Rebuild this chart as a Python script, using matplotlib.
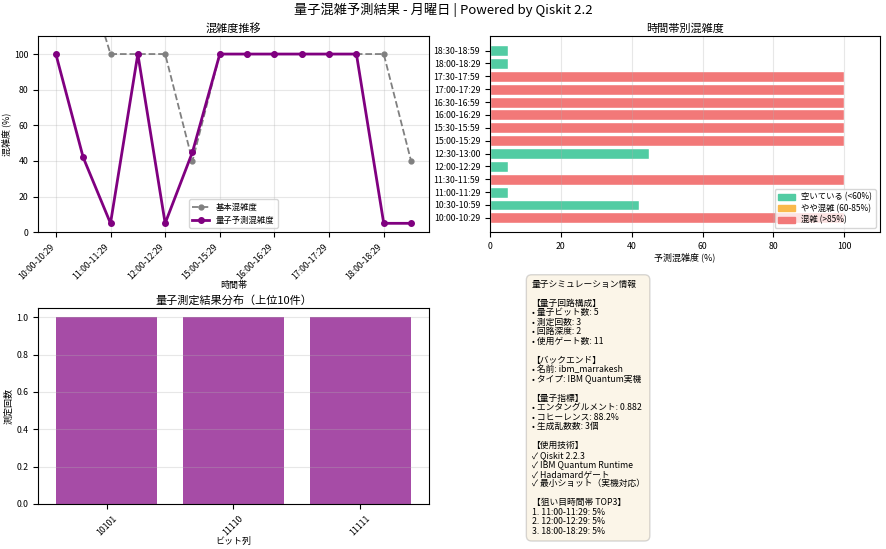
import matplotlib
matplotlib.use("Agg")
import matplotlib.pyplot as plt
from matplotlib.patches import Patch

plt.rcParams["font.family"] = ["Noto Sans CJK JP", "DejaVu Sans"]
plt.rcParams["axes.unicode_minus"] = False

# データ
slots = ["10:00-10:29", "10:30-10:59", "11:00-11:29", "11:30-11:59", "12:00-12:29",
         "12:30-13:00", "15:00-15:29", "15:30-15:59", "16:00-16:29", "16:30-16:59",
         "17:00-17:29", "17:30-17:59", "18:00-18:29", "18:30-18:59"]
base_level = [150, 150, 100, 100, 100, 40, 100, 100, 100, 100, 100, 100, 100, 40]
quantum_level = [100, 42, 5, 100, 5, 45, 100, 100, 100, 100, 100, 100, 5, 5]
bitstrings = ["10101", "11110", "11111"]
counts = [1, 1, 1]

C_FREE = "#52CCA3"
C_MID = "#F9B94C"
C_BUSY = "#F27878"

def level_color(v):
    if v < 60:
        return C_FREE
    if v < 85:
        return C_MID
    return C_BUSY

fig = plt.figure(figsize=(8.86, 5.49), dpi=100)
fig.suptitle("量子混雑予測結果 - 月曜日 | Powered by Qiskit 2.2", fontsize=9.5, y=0.995)

# --- 混雑度推移 ---
ax1 = fig.add_axes([0.043, 0.577, 0.441, 0.357])
x = list(range(len(slots)))
ax1.plot(x, base_level, "o--", color="gray", lw=1.3, ms=3.5, label="基本混雑度")
ax1.plot(x, quantum_level, "o-", color="purple", lw=2, ms=4, label="量子予測混雑度")
ax1.set_ylim(0, 110)
ax1.set_xticks(x[::2])
ax1.set_xticklabels(slots[::2], rotation=45, ha="right", fontsize=6.3)
ax1.tick_params(axis="y", labelsize=6.3)
ax1.set_ylabel("混雑度 (%)", fontsize=6.5, labelpad=2)
ax1.set_xlabel("時間帯", fontsize=6.5, labelpad=0)
ax1.set_title("混雑度推移", fontsize=8, pad=3)
ax1.grid(alpha=0.3)
ax1.legend(fontsize=6, loc="lower center")

# --- 時間帯別混雑度 ---
ax2 = fig.add_axes([0.553, 0.577, 0.440, 0.357])
ax2.barh(slots, quantum_level, color=[level_color(v) for v in quantum_level],
         edgecolor="white", height=0.85)
ax2.set_xlim(0, 110)
ax2.set_xlabel("予測混雑度 (%)", fontsize=6.5, labelpad=1)
ax2.set_title("時間帯別混雑度", fontsize=8, pad=3)
ax2.tick_params(labelsize=6.3)
ax2.grid(axis="x", alpha=0.3)
handles = [Patch(color=C_FREE, label="空いている (<60%)"),
           Patch(color=C_MID, label="やや混雑 (60-85%)"),
           Patch(color=C_BUSY, label="混雑 (>85%)")]
ax2.legend(handles=handles, fontsize=6, loc="lower right", labelspacing=0.3)

# --- 量子測定結果分布 ---
ax3 = fig.add_axes([0.043, 0.082, 0.441, 0.357])
ax3.bar(bitstrings, counts, color="purple", alpha=0.7)
ax3.set_title("量子測定結果分布（上位10件）", fontsize=8, pad=3)
ax3.set_ylabel("測定回数", fontsize=6.5, labelpad=2)
ax3.set_xlabel("ビット列", fontsize=6.5, labelpad=0)
ax3.tick_params(labelsize=6.3)
plt.setp(ax3.get_xticklabels(), rotation=45)
ax3.grid(axis="y", alpha=0.3)

# --- 情報テキスト ---
info = ("量子シミュレーション情報\n\n"
        "【量子回路構成】\n"
        "• 量子ビット数: 5\n"
        "• 測定回数: 3\n"
        "• 回路深度: 2\n"
        "• 使用ゲート数: 11\n\n"
        "【バックエンド】\n"
        "• 名前: ibm_marrakesh\n"
        "• タイプ: IBM Quantum実機\n\n"
        "【量子指標】\n"
        "• エンタングルメント: 0.882\n"
        "• コヒーレンス: 88.2%\n"
        "• 生成乱数数: 3個\n\n"
        "【使用技術】\n"
        "✓ Qiskit 2.2.3\n"
        "✓ IBM Quantum Runtime\n"
        "✓ Hadamardゲート\n"
        "✓ 最小ショット（実機対応）\n\n"
        "【狙い目時間帯 TOP3】\n"
        "1. 11:00-11:29: 5%\n"
        "2. 12:00-12:29: 5%\n"
        "3. 18:00-18:29: 5%")
fig.text(0.600, 0.490, info, fontsize=6.3, va="top", ha="left", linespacing=1.07,
         family=["Noto Sans CJK JP", "DejaVu Sans"],
         bbox=dict(boxstyle="round,pad=0.6", facecolor="wheat", alpha=0.3, edgecolor="gray"))

fig.savefig("out.png", dpi=100, facecolor="white")
